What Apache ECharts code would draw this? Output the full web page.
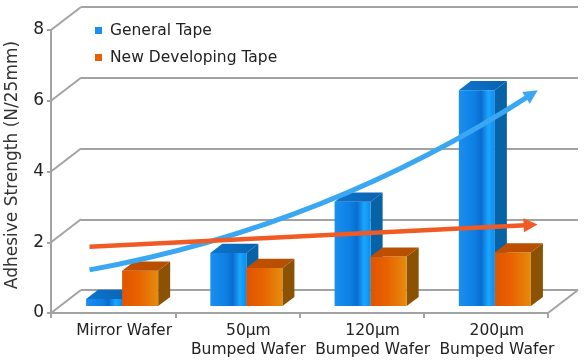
<!DOCTYPE html>
<html>
<head>
<meta charset="utf-8">
<script src="https://cdn.jsdelivr.net/npm/echarts@6/dist/echarts.min.js"></script>
<style>
html,body{margin:0;padding:0;background:#fff;}
#main{width:587px;height:364px;}
</style>
</head>
<body>
<div id="main"></div>
<script>
// ---- data ----
var categories = ['Mirror Wafer', '50\u00b5m\nBumped Wafer', '120\u00b5m\nBumped Wafer', '200\u00b5m\nBumped Wafer'];
var seriesNames = ['General Tape', 'New Developing Tape'];
var generalTape = [0.2, 1.5, 2.95, 6.1];
var newTape = [1.0, 1.08, 1.4, 1.52];
var yTicks = [0, 2, 4, 6, 8];
var yTitle = 'Adhesive Strength (N/25mm)';
// trend arrows, in axis units (x: category position 0..4, y: N/25mm)
var generalTrend = [[0.31, 1.22], [3.87, 6.19]];
var newTrend = [[0.31, 1.87], [3.86, 2.49]];

// ---- layout ----
var FRONT = {left: 51, right: 39, top: 30, bottom: 51};
var BACK = {left: 81, right: 9, top: 7, bottom: 74};
var DX = BACK.left - FRONT.left;   // depth offset in px
var DY = BACK.top - FRONT.top;
var GRID_COLOR = '#a3a3a3';

var chart = echarts.init(document.getElementById('main'), null, {renderer: 'canvas'});

function barRenderer(seriesIdx, colors) {
  return function (params, api) {
    var i = api.value(0), v = api.value(1);
    var base = api.coord([i + 0.5, 0]);
    var top = api.coord([i + 0.5, v]);
    var catW = api.size([1, 0])[0];
    var w = catW * 0.29;
    var d0 = 0.3, dd = 0.4;
    var ox = DX * d0, oy = DY * d0;
    var ddx = DX * dd, ddy = DY * dd;
    var x0 = base[0] + ox + (seriesIdx === 0 ? -w : 0);
    var x1 = x0 + w;
    var yB = base[1] + oy, yT = top[1] + oy;
    return {
      type: 'group',
      children: [
        {
          type: 'polygon',
          shape: {points: [[x1, yT], [x1 + ddx, yT + ddy], [x1 + ddx, yB + ddy], [x1, yB]]},
          style: {fill: colors.side}
        },
        {
          type: 'rect',
          shape: {x: x0, y: yT, width: w, height: yB - yT},
          style: {fill: new echarts.graphic.LinearGradient(0, 0, 1, 0, colors.front)}
        },
        {
          type: 'polygon',
          shape: {points: [[x0, yT], [x1, yT], [x1 + ddx, yT + ddy], [x0 + ddx, yT + ddy]]},
          style: {fill: new echarts.graphic.LinearGradient(0, 1, 1, 0, colors.top)}
        }
      ]
    };
  };
}

var blueColors = {
  front: [
    {offset: 0, color: '#1a8ff0'},
    {offset: 0.45, color: '#0c7fe2'},
    {offset: 0.62, color: '#0a6cd0'},
    {offset: 0.82, color: '#1aa6ff'},
    {offset: 1, color: '#0d8ceb'}
  ],
  side: '#0862a6',
  top: [{offset: 0, color: '#0d74cc'}, {offset: 1, color: '#0a62b0'}]
};
var orangeColors = {
  front: [
    {offset: 0, color: '#e05500'},
    {offset: 0.45, color: '#e86200'},
    {offset: 1, color: '#e48c10'}
  ],
  side: '#8c5204',
  top: [{offset: 0, color: '#c44e00'}, {offset: 1, color: '#b25000'}]
};

var frameData = yTicks.map(function (t) { return [0, t]; }).concat([[categories.length, 0]]);

var option = {
  animation: false,
  backgroundColor: '#fff',
  textStyle: {fontFamily: 'DejaVu Sans'},
  grid: [
    {left: FRONT.left, right: FRONT.right, top: FRONT.top, bottom: FRONT.bottom, containLabel: false, outerBoundsMode: 'none'},
    {left: BACK.left, right: BACK.right, top: BACK.top, bottom: BACK.bottom, containLabel: false, outerBoundsMode: 'none'}
  ],
  graphic: [{
    type: 'text',
    x: 13,
    y: 165,
    rotation: Math.PI / 2,
    style: {
      text: yTitle,
      fontSize: 17,
      fontFamily: 'DejaVu Sans',
      fill: '#333',
      align: 'center',
      verticalAlign: 'middle'
    }
  }],
  legend: {
    orient: 'vertical',
    left: 95,
    top: 21,
    padding: 0,
    itemWidth: 7,
    itemHeight: 7,
    itemGap: 8,
    icon: 'rect',
    data: seriesNames,
    textStyle: {fontSize: 15.5, color: '#222', fontFamily: 'DejaVu Sans', lineHeight: 19, padding: [0, 0, 0, 3]}
  },
  xAxis: [
    {
      type: 'category', gridIndex: 0, data: categories,
      boundaryGap: true,
      axisLine: {lineStyle: {color: GRID_COLOR, width: 2}},
      axisTick: {show: true, length: 5, lineStyle: {color: GRID_COLOR, width: 2}},
      axisLabel: {interval: 0, fontSize: 15.5, color: '#222', lineHeight: 19, margin: 8, padding: [0, 0, 0, 22], fontFamily: 'DejaVu Sans'},
      splitLine: {show: false}
    },
    {type: 'value', gridIndex: 0, min: 0, max: categories.length, show: false},
    {type: 'value', gridIndex: 1, min: 0, max: 1, show: false}
  ],
  yAxis: [
    {
      type: 'value', gridIndex: 0, min: 0, max: 8, interval: 2,
      axisLine: {show: true, lineStyle: {color: GRID_COLOR, width: 2}},
      axisTick: {show: true, length: 4, lineStyle: {color: GRID_COLOR, width: 2}},
      axisLabel: {fontSize: 17, color: '#222', margin: 7, fontFamily: 'DejaVu Sans'},
      splitLine: {show: false}
    },
    {
      type: 'value', gridIndex: 1, min: 0, max: 8, interval: 2,
      axisLine: {show: false}, axisTick: {show: false}, axisLabel: {show: false},
      splitLine: {show: true, lineStyle: {color: GRID_COLOR, width: 2}}
    }
  ],
  series: [
    {
      name: 'frame', type: 'custom', xAxisIndex: 1, yAxisIndex: 0, silent: true, z: 1,
      data: frameData,
      renderItem: function (params, api) {
        var p = api.coord([api.value(0), api.value(1)]);
        return {
          type: 'line',
          shape: {x1: p[0], y1: p[1], x2: p[0] + DX, y2: p[1] + DY},
          style: {stroke: GRID_COLOR, lineWidth: 2}
        };
      }
    },
    {
      name: seriesNames[0], type: 'custom', xAxisIndex: 1, yAxisIndex: 0, z: 3,
      itemStyle: {color: '#1a8ff0'},
      data: generalTape.map(function (v, i) { return [i, v]; }),
      renderItem: barRenderer(0, blueColors)
    },
    {
      name: seriesNames[1], type: 'custom', xAxisIndex: 1, yAxisIndex: 0, z: 4,
      itemStyle: {color: '#e86000'},
      data: newTape.map(function (v, i) { return [i, v]; }),
      renderItem: barRenderer(1, orangeColors)
    },
    {
      name: 'trendGeneral', type: 'lines', coordinateSystem: 'cartesian2d', xAxisIndex: 1, yAxisIndex: 0, z: 10,
      symbol: ['none', 'triangle'], symbolSize: [13, 14],
      lineStyle: {color: '#3aa7f2', width: 5, curveness: -0.1, opacity: 1},
      data: [{coords: generalTrend}]
    },
    {
      name: 'trendNew', type: 'lines', coordinateSystem: 'cartesian2d', xAxisIndex: 1, yAxisIndex: 0, z: 10,
      symbol: ['none', 'triangle'], symbolSize: [13, 14],
      lineStyle: {color: '#f05a24', width: 4.5, curveness: 0, opacity: 1},
      data: [{coords: newTrend}]
    }
  ]
};
chart.setOption(option);
</script>
</body>
</html>
